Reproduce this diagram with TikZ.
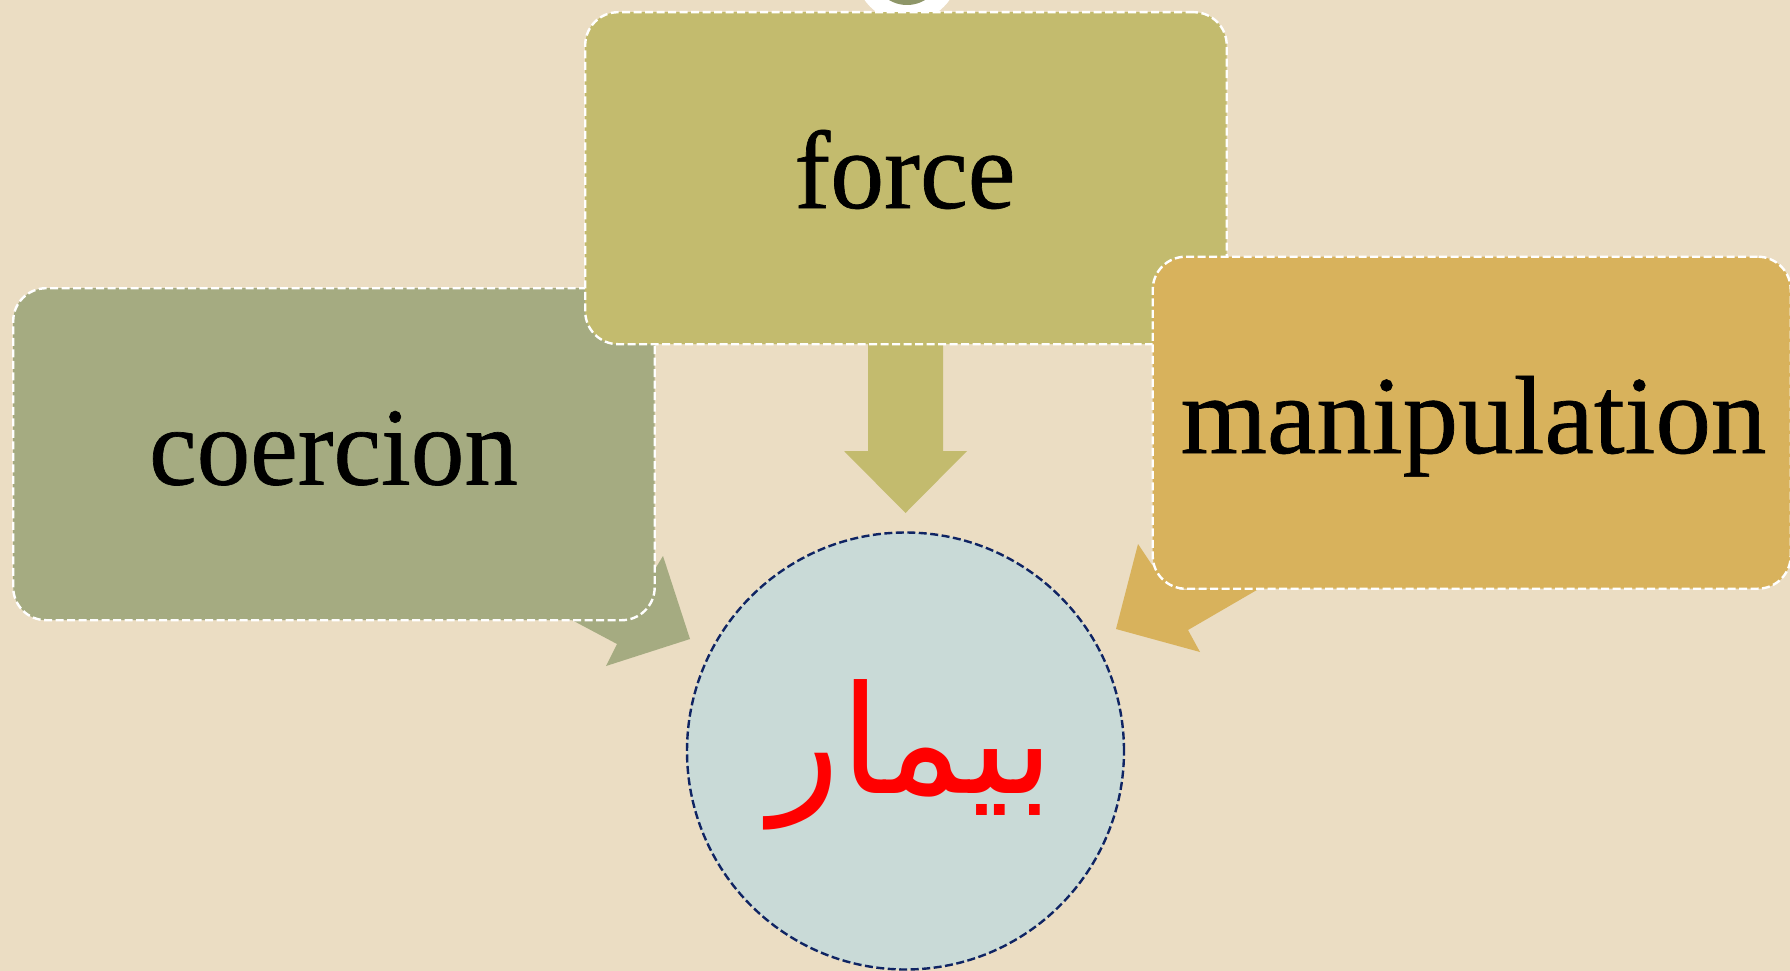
\documentclass[tikz,border=0pt]{standalone}
\usepackage{fontspec}
\setmainfont[FakeBold=0.6]{Liberation Serif}
\newfontfamily\arabicfont[Script=Arabic]{DejaVu Sans}
\TeXXeTstate=1
\definecolor{bgc}{HTML}{EBDDC3}
\definecolor{forcec}{HTML}{C3BB6E}
\definecolor{coerc}{HTML}{A5AB81}
\definecolor{manic}{HTML}{D8B25C}
\definecolor{circc}{HTML}{C9DAD7}
\definecolor{navyc}{HTML}{0F2463}
\definecolor{topg}{HTML}{8E9668}
\tikzset{
  box/.style={draw=white,line width=2.4pt,dash pattern=on 8pt off 3.5pt,rounded corners=33pt,inner sep=0pt,anchor=north west},
  label/.style={font=\fontsize{111}{111}\selectfont,text=black,inner sep=0pt,anchor=base}
}
\begin{document}
\begin{tikzpicture}[x=1pt,y=-1pt]
\useasboundingbox (0,0) rectangle (1790,971);
\fill[bgc] (0,0) rectangle (1790,971);
% decorative circle cut off at the top
\begin{scope}
\clip (0,0) rectangle (1790,971);
\fill[white] (907,-30) circle (52);
\fill[topg] (907,-30) circle (35);
\end{scope}
% arrows
\fill[coerc] (570,619) -- (617,644) -- (606,666) -- (690,639) -- (663,556) -- (652,574) -- (630,600) -- cycle;
\fill[manic] (1262,587) -- (1188,630) -- (1200,652) -- (1116,629) -- (1138,544) -- (1152,565) -- (1180,590) -- cycle;
\fill[forcec] (868,340) -- (943,340) -- (943,451) -- (967,451) -- (905.5,513) -- (844,451) -- (868,451) -- cycle;
% boxes
\node[box,fill=coerc,minimum width=641.5pt,minimum height=332pt] (coercion) at (12,287) {};
\node[box,fill=forcec,minimum width=641.5pt,minimum height=332pt] (force) at (584,11) {};
\node[box,fill=manic,minimum width=638pt,minimum height=332pt] (manipulation) at (1151.5,255.5) {};
\node[label] (tforce) at (905,208) {\scalebox{.97}[1]{force}};
\node[label] (tcoercion) at (333.5,484.5) {\scalebox{.965}[1]{coercion}};
\node[label] (tmanip) at (1473.5,453) {manipulation};
% circle
\node[circle,draw=navyc,fill=circc,line width=2.4pt,dash pattern=on 8pt off 3.5pt,minimum size=437pt,inner sep=0pt] (patient) at (905.5,751) {};
\node[font=\arabicfont\fontsize{150}{150}\selectfont,text=red,inner sep=0pt] (word) at (912,755) {\scalebox{.975}[1]{\beginR بیمار\endR}};
\end{tikzpicture}
\end{document}
